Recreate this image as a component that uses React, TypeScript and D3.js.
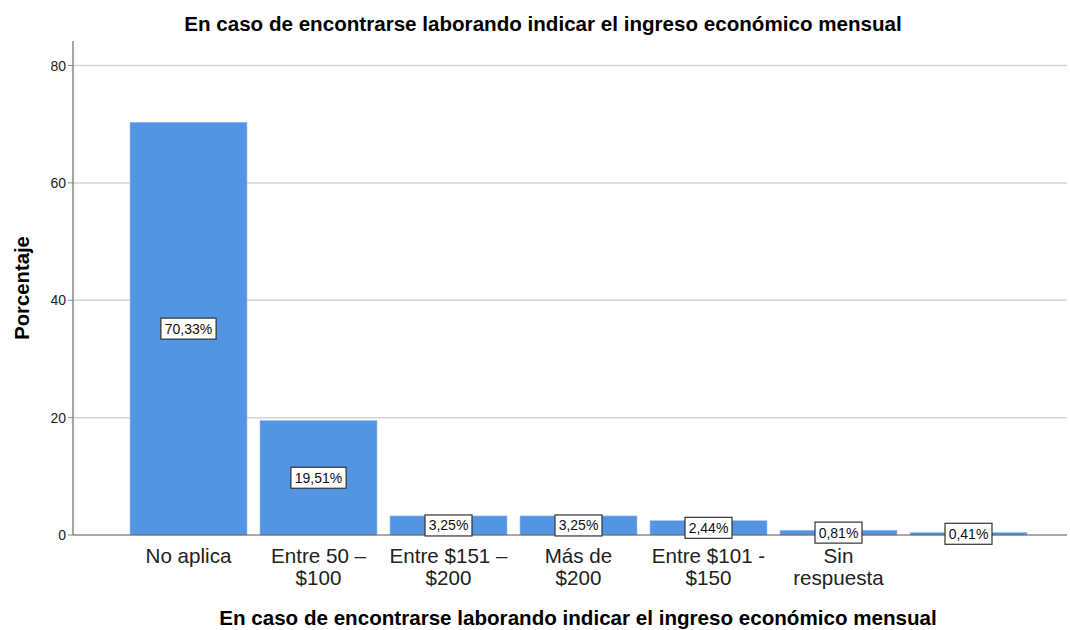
import React from "react";
import * as d3 from "d3";

const categories = ["No aplica", "Entre 50 –\n$100", "Entre $151 –\n$200", "Más de\n$200", "Entre $101 -\n$150", "Sin\nrespuesta", ""];
const values = [70.33, 19.51, 3.25, 3.25, 2.44, 0.81, 0.41];
const labels = ["70,33%", "19,51%", "3,25%", "3,25%", "2,44%", "0,81%", "0,41%"];
const yTicks = [0, 20, 40, 60, 80];
const title = "En caso de encontrarse laborando indicar el ingreso económico mensual";
const yTitle = "Porcentaje";

const W = 1070, H = 630;
const axisLeft = 73, axisRight = 1067, y0px = 535, yTop = 41;

export default function App() {
  const y = d3.scaleLinear().domain([0, 80]).range([y0px, 65.5]);
  const x = d3.scaleBand<number>().domain(values.map((_, i) => i)).range([123.5, 1033.5]).paddingInner(0.1).paddingOuter(0.05);
  const font = "'Liberation Sans', Arial, sans-serif";
  return (
    <svg width={W} height={H} style={{ position: "absolute", left: 0, top: 0, background: "#fff" }} fontFamily={font}>
      <text x={543} y={31} textAnchor="middle" fontWeight="bold" fontSize={20.6}>{title}</text>
      {yTicks.filter(t => t > 0).map(t => (
        <line key={t} x1={axisLeft} x2={axisRight} y1={y(t)} y2={y(t)} stroke="#d4d4d4" strokeWidth={1.5} />
      ))}
      {yTicks.map(t => (
        <g key={"t" + t}>
          <line x1={axisLeft - 5} x2={axisLeft} y1={y(t)} y2={y(t)} stroke="#888" />
          <text x={axisLeft - 7} y={y(t) + 5} textAnchor="end" fontSize={14} fill="#222">{t}</text>
        </g>
      ))}
      {values.map((v, i) => (
        <rect key={i} x={x(i)} y={y(v)} width={x.bandwidth()} height={y0px - y(v)} fill="#5394E3" stroke="#9cc2f0" strokeWidth={0.6} />
      ))}
      <line x1={axisLeft} x2={axisLeft} y1={yTop} y2={y0px} stroke="#888" strokeWidth={1.5} />
      <line x1={axisLeft} x2={axisRight} y1={y0px} y2={y0px} stroke="#555" strokeWidth={1} />
      {values.map((v, i) => {
        const cx = (x(i) as number) + x.bandwidth() / 2;
        const cy = y(v / 2);
        const w = labels[i].length * 8.2 + 6;
        return (
          <g key={"l" + i}>
            <rect x={cx - w / 2} y={cy - 10.5} width={w} height={21} fill="#fff" stroke="#333" strokeWidth={1.2} />
            <text x={cx} y={cy + 5} textAnchor="middle" fontSize={14} fill="#111">{labels[i]}</text>
          </g>
        );
      })}
      {categories.map((c, i) => {
        const cx = (x(i) as number) + x.bandwidth() / 2;
        return (
          <text key={"c" + i} x={cx} textAnchor="middle" fontSize={20.6} fill="#222">
            {c.split("\n").map((ln, j) => (
              <tspan key={j} x={cx} y={563 + j * 22}>{ln}</tspan>
            ))}
          </text>
        );
      })}
      <text x={578} y={625} textAnchor="middle" fontWeight="bold" fontSize={20.6}>{title}</text>
      <text transform={`translate(29,${288}) rotate(-90)`} textAnchor="middle" fontWeight="bold" fontSize={20.3}>{yTitle}</text>
    </svg>
  );
}
